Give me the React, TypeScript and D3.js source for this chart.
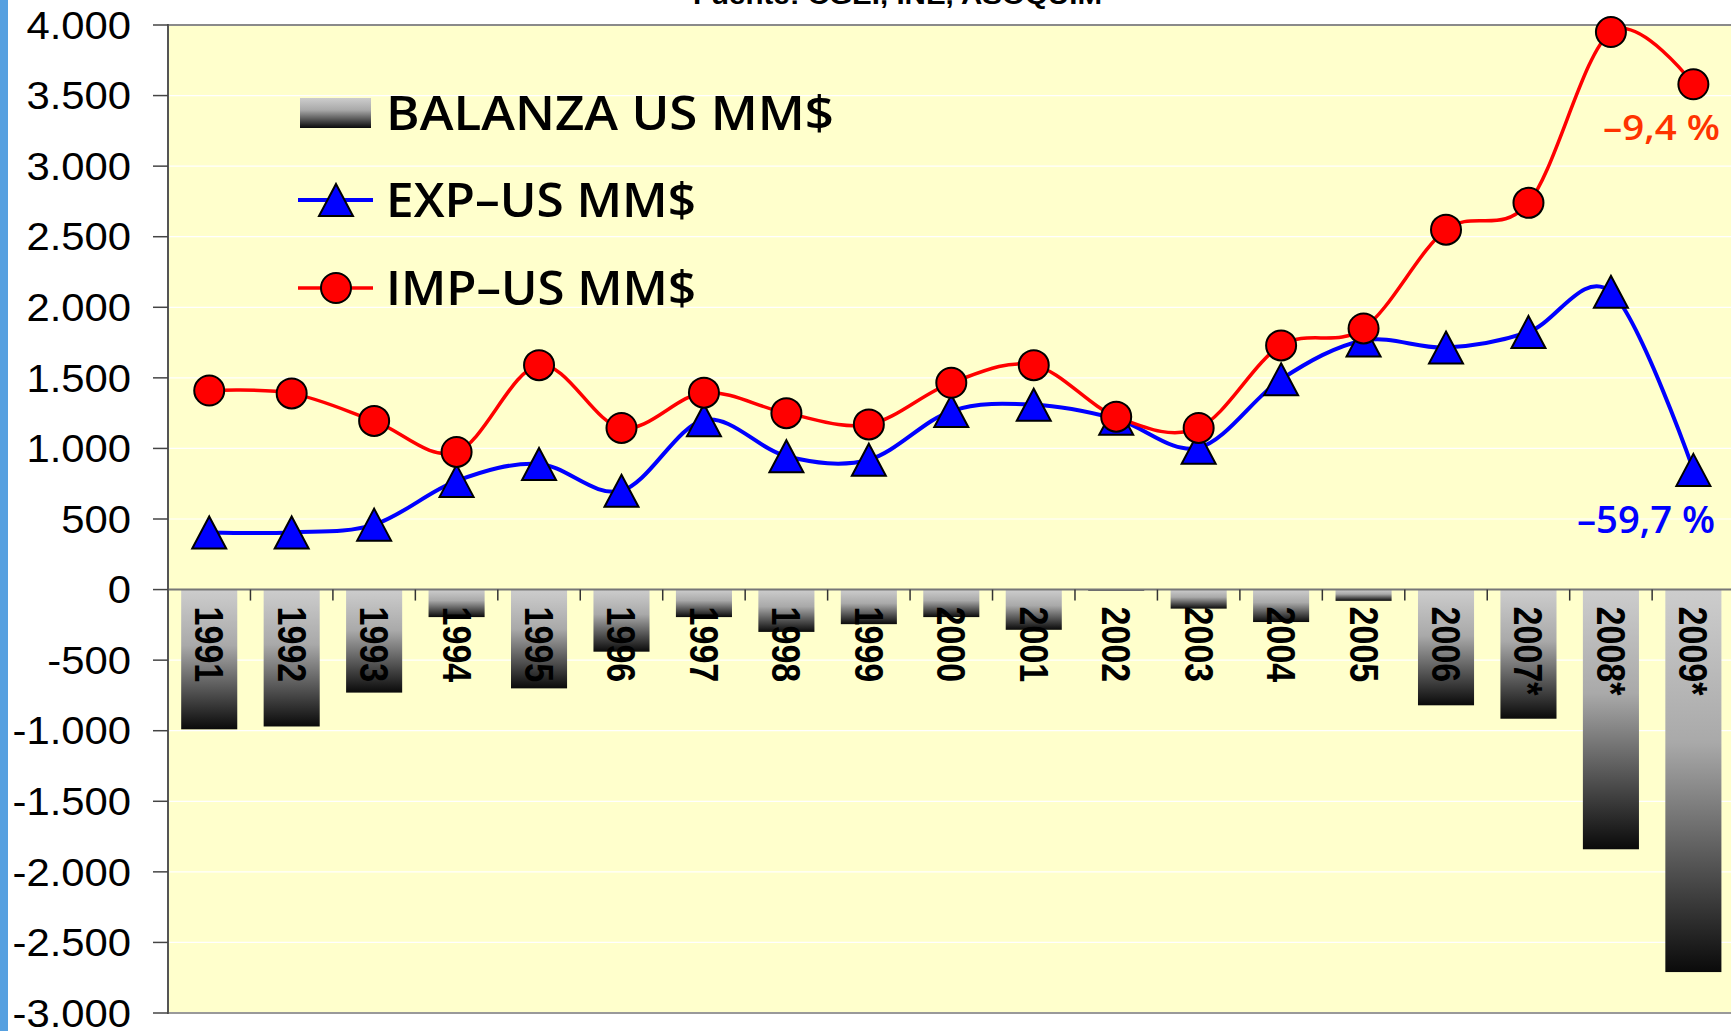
import * as d3 from 'd3';
import { useEffect, useRef } from 'react';

// Data (US MM$)
const years = ['1991', '1992', '1993', '1994', '1995', '1996', '1997', '1998', '1999', '2000',
  '2001', '2002', '2003', '2004', '2005', '2006', '2007*', '2008*', '2009*'];
const balanza = [-990, -970, -730, -195, -700, -440, -195, -300, -245, -195,
  -285, -10, -135, -230, -80, -820, -915, -1840, -2710];
const exportaciones = [405, 405, 460, 770, 890, 700, 1200, 945, 920, 1265,
  1310, 1210, 1005, 1490, 1765, 1715, 1825, 2110, 848];
const importaciones = [1410, 1390, 1195, 975, 1590, 1145, 1395, 1250, 1170, 1465,
  1590, 1225, 1145, 1730, 1850, 2550, 2740, 3950, 3580];
const yTicks = [4000, 3500, 3000, 2500, 2000, 1500, 1000, 500, 0, -500, -1000, -1500, -2000, -2500, -3000];
const legendLabels = ['BALANZA US MM$', 'EXP–US MM$', 'IMP–US MM$'];
const changeLabels = ['–9,4 %', '–59,7 %'];
const sourceText = 'Fuente: CGEI, INE, ASOQUIM';

const W = 1731;
const H = 1031;

export default function App() {
  const ref = useRef<SVGSVGElement>(null);

  useEffect(() => {
    const svg = d3.select(ref.current);
    svg.selectAll('*').remove();

    const left = 168, top = 25, bottom = 1013, right = 1734.6;

    const x = d3.scaleBand()
      .domain(years)
      .range([left, right])
      .paddingInner(0.32)
      .paddingOuter(0.16);

    const y = d3.scaleLinear()
      .domain([-3000, 4000])
      .range([bottom, top]);

    const fmt = d3.formatLocale({ decimal: ',', thousands: '.', grouping: [3], currency: ['', ''], minus: '-' }).format(',');

    // gradient for the bars
    const defs = svg.append('defs');
    const grad = defs.append('linearGradient')
      .attr('id', 'barGrad')
      .attr('x1', 0).attr('y1', 0).attr('x2', 0).attr('y2', 1);
    grad.append('stop').attr('offset', '0%').attr('stop-color', '#cdcdcd');
    grad.append('stop').attr('offset', '40%').attr('stop-color', '#a9a9a9');
    grad.append('stop').attr('offset', '100%').attr('stop-color', '#0a0a0a');

    // blue strip on the left edge
    svg.append('rect')
      .attr('x', 0).attr('y', 0).attr('width', 8).attr('height', H)
      .attr('fill', '#56a0e0');

    // plot background
    svg.append('rect')
      .attr('x', left).attr('y', top)
      .attr('width', W - left).attr('height', bottom - top)
      .attr('fill', '#ffffcc');

    // gridlines
    svg.append('g')
      .selectAll('line')
      .data(yTicks.filter(d => d !== 4000 && d !== -3000 && d !== 0))
      .enter()
      .append('line')
      .attr('x1', left).attr('x2', W)
      .attr('y1', d => y(d)).attr('y2', d => y(d))
      .attr('stroke', '#ffffff')
      .attr('stroke-width', 1.2);

    // bars
    svg.append('g')
      .selectAll('rect')
      .data(balanza)
      .enter()
      .append('rect')
      .attr('x', (d, i) => x(years[i]))
      .attr('y', d => y(Math.max(0, d)))
      .attr('width', x.bandwidth())
      .attr('height', d => Math.abs(y(d) - y(0)))
      .attr('fill', 'url(#barGrad)');

    // year labels, rotated
    svg.append('g')
      .selectAll('text')
      .data(years)
      .enter()
      .append('text')
      .attr('transform', d => `translate(${x(d) + x.bandwidth() / 2},${y(0) + 17}) rotate(90) scale(1,1.18)`)
      .attr('dominant-baseline', 'central')
      .attr('font-family', '"Liberation Sans", Arial, sans-serif')
      .attr('font-weight', 'bold')
      .attr('font-size', 34)
      .attr('fill', '#000')
      .text(d => d);

    // axis lines
    svg.append('line')
      .attr('x1', left).attr('x2', W).attr('y1', top).attr('y2', top)
      .attr('stroke', '#8a8a8a').attr('stroke-width', 2);
    svg.append('line')
      .attr('x1', left).attr('x2', W).attr('y1', bottom).attr('y2', bottom)
      .attr('stroke', '#999').attr('stroke-width', 2);
    svg.append('line')
      .attr('x1', left).attr('x2', W).attr('y1', y(0)).attr('y2', y(0))
      .attr('stroke', '#777').attr('stroke-width', 2);
    svg.append('line')
      .attr('x1', left).attr('x2', left).attr('y1', top - 1).attr('y2', bottom + 1)
      .attr('stroke', '#555').attr('stroke-width', 2);

    // x ticks at category boundaries
    svg.append('g')
      .selectAll('line')
      .data(years.slice(1))
      .enter()
      .append('line')
      .attr('x1', d => x(d) - x.step() * 0.16)
      .attr('x2', d => x(d) - x.step() * 0.16)
      .attr('y1', y(0)).attr('y2', y(0) + 11)
      .attr('stroke', '#333').attr('stroke-width', 1.5);

    // y ticks + labels
    const yAxis = svg.append('g');
    yAxis.selectAll('line')
      .data(yTicks)
      .enter()
      .append('line')
      .attr('x1', left - 15).attr('x2', left)
      .attr('y1', d => y(d)).attr('y2', d => y(d))
      .attr('stroke', '#444').attr('stroke-width', 1.5);
    yAxis.selectAll('text')
      .data(yTicks)
      .enter()
      .append('text')
      .attr('transform', d => `translate(131,${y(d)}) scale(1.1,1)`)
      .attr('dy', '0.36em')
      .attr('text-anchor', 'end')
      .attr('font-family', '"Liberation Sans", Arial, sans-serif')
      .attr('font-size', 38)
      .attr('fill', '#000')
      .text(d => fmt(d));

    const cx = (i: number) => x(years[i]) + x.bandwidth() / 2;
    const lineGen = d3.line<number>()
      .x((d, i) => cx(i))
      .y(d => y(d))
      .curve(d3.curveCardinal.tension(0));

    const tri = 'M0,-16L17,16L-17,16Z';

    // EXP series
    svg.append('path')
      .datum(exportaciones)
      .attr('d', lineGen)
      .attr('fill', 'none')
      .attr('stroke', '#0000ff')
      .attr('stroke-width', 4);
    svg.append('g')
      .selectAll('path')
      .data(exportaciones)
      .enter()
      .append('path')
      .attr('d', tri)
      .attr('transform', (d, i) => `translate(${cx(i)},${y(d)})`)
      .attr('fill', '#0000ff')
      .attr('stroke', '#000')
      .attr('stroke-width', 2);

    // IMP series
    svg.append('path')
      .datum(importaciones)
      .attr('d', lineGen)
      .attr('fill', 'none')
      .attr('stroke', '#ff0000')
      .attr('stroke-width', 3.5);
    svg.append('g')
      .selectAll('circle')
      .data(importaciones)
      .enter()
      .append('circle')
      .attr('cx', (d, i) => cx(i))
      .attr('cy', d => y(d))
      .attr('r', 15)
      .attr('fill', '#ff0000')
      .attr('stroke', '#000')
      .attr('stroke-width', 2);

    // legend
    const legend = svg.append('g');
    const rowY = [113, 200, 288];
    const textW = [448, 310, 310];
    legend.append('rect')
      .attr('x', 300).attr('y', rowY[0] - 15)
      .attr('width', 71).attr('height', 30)
      .attr('fill', 'url(#barGrad)');
    legend.append('line')
      .attr('x1', 298).attr('x2', 373).attr('y1', rowY[1]).attr('y2', rowY[1])
      .attr('stroke', '#0000ff').attr('stroke-width', 4);
    legend.append('path')
      .attr('d', tri)
      .attr('transform', `translate(336,${rowY[1]})`)
      .attr('fill', '#0000ff').attr('stroke', '#000').attr('stroke-width', 2);
    legend.append('line')
      .attr('x1', 298).attr('x2', 373).attr('y1', rowY[2]).attr('y2', rowY[2])
      .attr('stroke', '#ff0000').attr('stroke-width', 3.5);
    legend.append('circle')
      .attr('cx', 336).attr('cy', rowY[2]).attr('r', 15)
      .attr('fill', '#ff0000').attr('stroke', '#000').attr('stroke-width', 2);
    legend.selectAll('text')
      .data(legendLabels)
      .enter()
      .append('text')
      .attr('x', 386)
      .attr('y', (d, i) => rowY[i] + 17)
      .attr('textLength', (d, i) => textW[i])
      .attr('lengthAdjust', 'spacingAndGlyphs')
      .attr('font-family', '"Open Sans", "DejaVu Sans", sans-serif')
      .attr('font-weight', 600)
      .attr('font-size', 47)
      .attr('fill', '#000')
      .text(d => d);

    // percentage change labels
    svg.append('text')
      .attr('x', 1603).attr('y', 140)
      .attr('textLength', 117).attr('lengthAdjust', 'spacingAndGlyphs')
      .attr('font-family', '"Open Sans", "DejaVu Sans", sans-serif')
      .attr('font-weight', 600)
      .attr('font-size', 35)
      .attr('fill', '#ff3300')
      .text(changeLabels[0]);
    svg.append('text')
      .attr('x', 1577).attr('y', 533)
      .attr('textLength', 138).attr('lengthAdjust', 'spacingAndGlyphs')
      .attr('font-family', '"Open Sans", "DejaVu Sans", sans-serif')
      .attr('font-weight', 600)
      .attr('font-size', 37)
      .attr('fill', '#0000ff')
      .text(changeLabels[1]);

    // source line, cut off at the top edge
    svg.append('text')
      .attr('x', 693).attr('y', 4)
      .attr('textLength', 409).attr('lengthAdjust', 'spacingAndGlyphs')
      .attr('font-family', '"Liberation Sans", Arial, sans-serif')
      .attr('font-weight', 'bold')
      .attr('font-size', 26)
      .attr('fill', '#000')
      .text(sourceText);
  }, []);

  return (
    <svg
      ref={ref}
      width={W}
      height={H}
      style={{ position: 'absolute', left: 0, top: 0, background: '#fff', display: 'block' }}
    />
  );
}
